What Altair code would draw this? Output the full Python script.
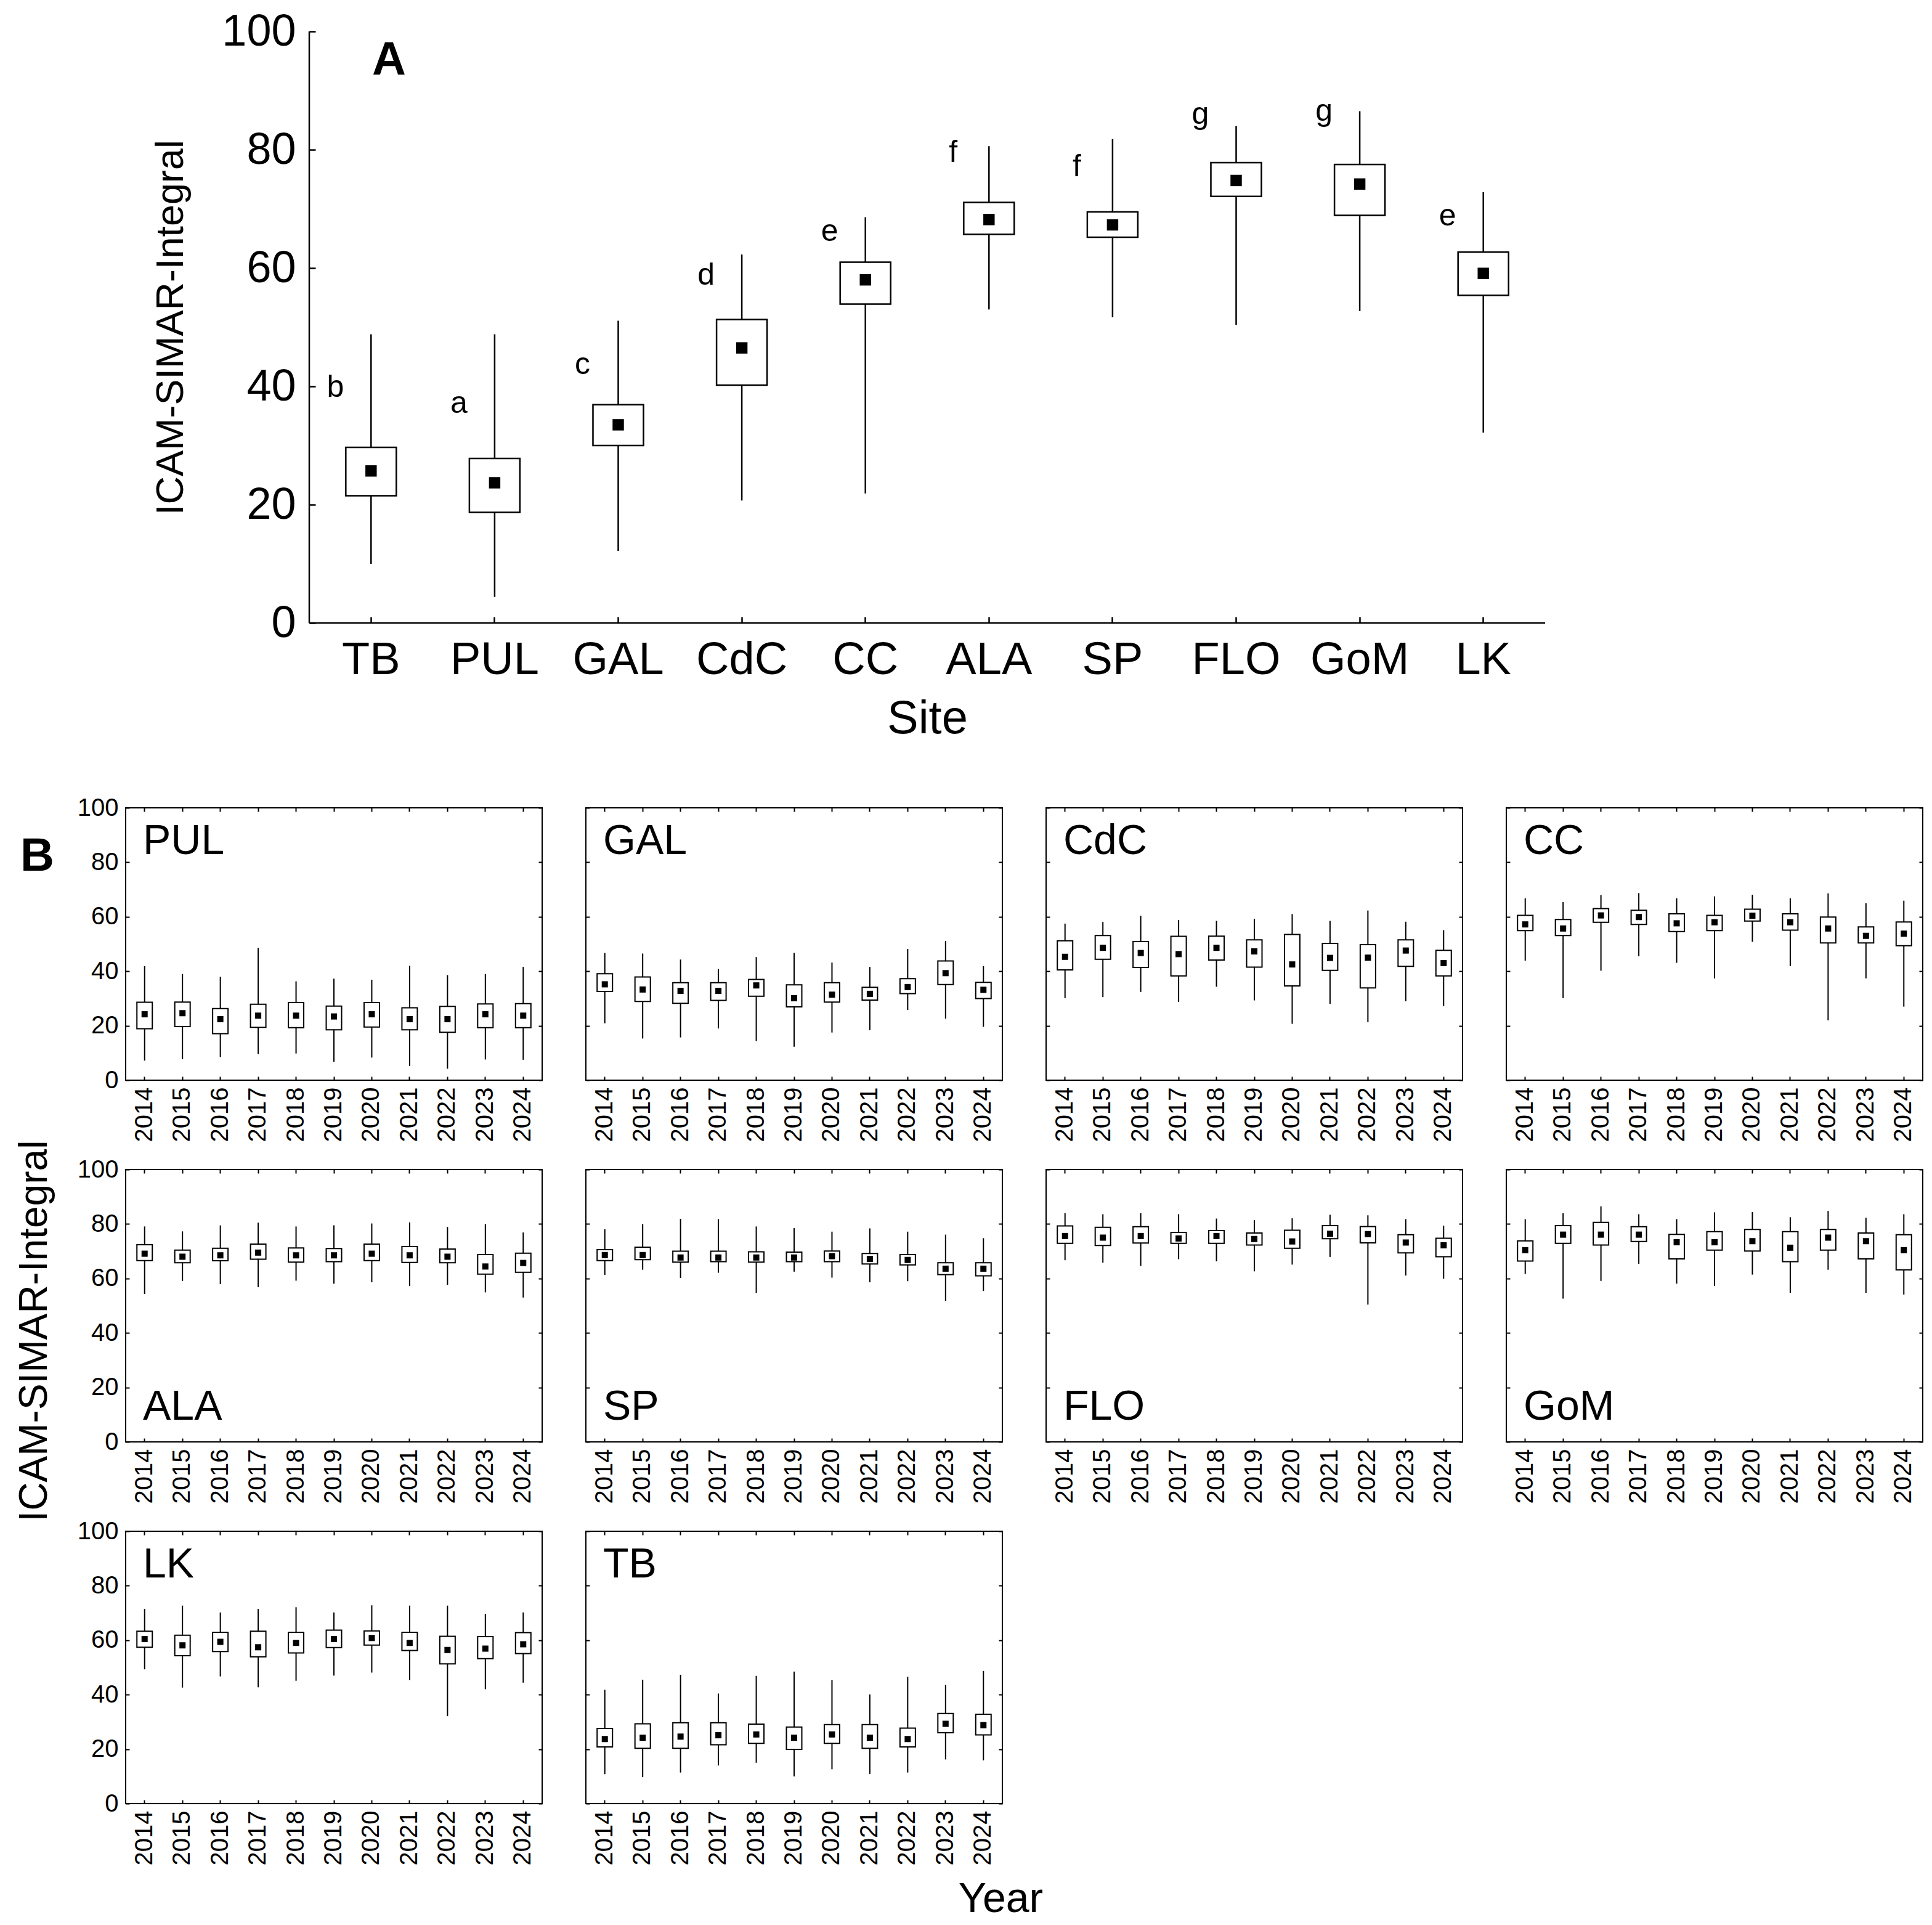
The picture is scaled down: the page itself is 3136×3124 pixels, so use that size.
import altair as alt
import pandas as pd

FONT = "Liberation Sans"

# ---------------- Panel A data ----------------
sites = ["TB", "PUL", "GAL", "CdC", "CC", "ALA", "SP", "FLO", "GoM", "LK"]
site_min = [10.0, 4.4, 12.2, 20.7, 21.9, 53.0, 51.7, 50.4, 52.7, 32.2]
site_q1 = [21.5, 18.7, 30.0, 40.2, 53.9, 65.7, 65.2, 72.1, 68.9, 55.4]
site_med = [25.7, 23.7, 33.5, 46.5, 58.0, 68.2, 67.3, 74.8, 74.2, 59.1]
site_q3 = [29.7, 27.8, 36.9, 51.3, 61.0, 71.1, 69.5, 77.8, 77.5, 62.7]
site_max = [48.8, 48.8, 51.1, 62.3, 68.6, 80.6, 81.8, 84.0, 86.5, 72.8]
letters = ["b", "a", "c", "d", "e", "f", "f", "g", "g", "e"]
letter_y = [39.8, 37.1, 43.6, 58.7, 66.1, 79.5, 77.1, 85.9, 86.5, 68.7]

# ---------------- Panel B data ----------------
years = [str(y) for y in range(2014, 2025)]
panel_rows = [["PUL", "GAL", "CdC", "CC"], ["ALA", "SP", "FLO", "GoM"], ["LK", "TB"]]
label_at_bottom = ["ALA", "SP", "FLO", "GoM"]

yr_min = {
    "PUL": [7.2, 7.7, 8.5, 9.6, 9.8, 6.8, 8.3, 5.2, 4.2, 7.6, 7.5],
    "GAL": [20.9, 15.3, 15.7, 19.0, 14.4, 12.3, 17.5, 18.4, 25.8, 22.6, 19.6],
    "CdC": [30.1, 30.5, 32.4, 28.7, 34.3, 29.3, 20.7, 28.0, 21.3, 29.0, 27.2],
    "CC": [43.9, 30.1, 40.2, 45.5, 43.1, 37.4, 50.8, 41.9, 22.0, 37.4, 27.0],
    "ALA": [54.3, 59.1, 57.9, 56.8, 59.2, 58.1, 58.6, 57.2, 57.7, 54.9, 53.0],
    "SP": [61.3, 63.2, 60.2, 62.1, 54.7, 62.5, 60.3, 58.6, 59.0, 51.8, 55.4],
    "FLO": [66.7, 65.8, 64.6, 67.1, 66.3, 62.6, 65.1, 67.9, 50.4, 61.1, 59.9],
    "GoM": [61.7, 52.6, 59.1, 65.4, 58.1, 57.3, 61.4, 54.7, 63.2, 54.7, 54.1],
    "LK": [49.3, 42.6, 46.7, 42.7, 45.1, 47.0, 48.1, 45.4, 32.1, 42.0, 44.4],
    "TB": [10.8, 9.7, 11.4, 14.0, 15.0, 10.0, 12.6, 10.9, 11.4, 16.2, 15.9],
}
yr_q1 = {
    "PUL": [18.9, 19.7, 17.1, 19.4, 19.3, 18.5, 19.5, 18.5, 17.6, 19.3, 19.3],
    "GAL": [32.6, 28.9, 28.2, 29.3, 30.8, 26.9, 28.7, 29.4, 31.8, 35.1, 30.0],
    "CdC": [40.5, 44.4, 41.4, 38.3, 44.1, 41.5, 34.6, 40.3, 33.9, 41.8, 38.3],
    "CC": [54.9, 53.1, 58.0, 57.2, 54.6, 54.9, 58.4, 55.1, 50.4, 50.4, 49.4],
    "ALA": [66.6, 65.8, 66.5, 67.1, 66.0, 66.2, 66.6, 65.9, 65.8, 61.6, 62.3],
    "SP": [66.6, 66.9, 66.0, 66.2, 66.0, 66.2, 66.2, 65.3, 65.0, 61.4, 61.0],
    "FLO": [72.9, 72.1, 73.0, 72.9, 72.9, 72.3, 71.1, 74.6, 73.1, 69.4, 68.0],
    "GoM": [66.4, 72.9, 72.3, 73.6, 67.2, 70.4, 70.1, 66.2, 70.4, 67.2, 63.2],
    "LK": [57.4, 54.3, 55.8, 53.9, 55.3, 57.3, 58.2, 56.2, 51.3, 53.2, 55.1],
    "TB": [20.8, 20.3, 20.3, 21.6, 22.1, 19.9, 22.1, 20.3, 20.8, 26.0, 25.2],
}
yr_med = {
    "PUL": [24.2, 24.6, 22.4, 23.7, 23.7, 23.4, 24.2, 22.4, 22.4, 24.2, 23.7],
    "GAL": [35.2, 33.3, 32.8, 32.8, 34.8, 30.1, 31.4, 31.7, 34.2, 39.3, 33.2],
    "CdC": [45.3, 48.6, 46.7, 46.3, 48.6, 47.3, 42.5, 44.9, 45.0, 47.6, 43.0],
    "CC": [57.2, 55.7, 60.5, 59.9, 57.6, 58.0, 60.4, 58.0, 55.7, 53.0, 53.8],
    "ALA": [69.1, 68.0, 68.5, 69.5, 68.5, 68.5, 69.1, 68.5, 68.0, 64.4, 65.7],
    "SP": [68.6, 68.6, 67.7, 67.7, 67.7, 67.7, 68.2, 67.2, 66.8, 63.6, 63.6],
    "FLO": [75.6, 75.0, 75.6, 74.7, 75.6, 74.5, 73.6, 76.4, 76.3, 73.2, 72.2],
    "GoM": [70.4, 76.1, 76.1, 76.1, 73.3, 73.3, 73.7, 71.3, 75.0, 73.7, 70.4],
    "LK": [60.4, 58.1, 59.4, 57.4, 59.0, 60.4, 60.8, 59.0, 56.4, 56.9, 58.5],
    "TB": [23.7, 24.2, 24.6, 25.1, 25.4, 24.2, 25.4, 24.2, 23.7, 29.3, 28.8],
}
yr_q3 = {
    "PUL": [28.6, 28.7, 26.3, 27.9, 28.5, 27.2, 28.5, 26.6, 27.1, 28.0, 28.1],
    "GAL": [39.1, 37.9, 35.8, 35.8, 37.0, 35.0, 35.8, 34.1, 37.3, 43.8, 35.9],
    "CdC": [51.2, 53.1, 50.9, 52.8, 52.9, 51.5, 53.5, 50.2, 49.8, 51.5, 47.7],
    "CC": [60.5, 59.0, 63.0, 62.4, 61.1, 60.5, 62.8, 61.1, 59.9, 56.3, 58.1],
    "ALA": [72.4, 70.4, 71.1, 72.6, 71.2, 71.0, 72.6, 71.7, 70.8, 68.8, 69.3],
    "SP": [70.6, 71.5, 70.0, 70.0, 69.8, 69.7, 70.1, 69.2, 68.8, 65.8, 65.8],
    "FLO": [79.3, 78.8, 79.0, 76.9, 77.6, 76.7, 77.7, 79.4, 79.1, 76.1, 74.8],
    "GoM": [73.8, 79.4, 80.6, 79.0, 76.2, 77.2, 78.0, 77.2, 78.0, 76.7, 76.1],
    "LK": [63.3, 61.8, 62.9, 63.3, 62.9, 63.7, 63.4, 62.9, 61.4, 61.3, 62.8],
    "TB": [27.6, 29.3, 29.7, 29.7, 29.2, 28.1, 29.0, 29.0, 27.7, 33.1, 32.8],
}
yr_max = {
    "PUL": [41.9, 39.0, 38.0, 48.6, 36.3, 37.3, 36.9, 42.0, 38.6, 39.0, 41.6],
    "GAL": [46.7, 46.5, 44.3, 40.8, 45.2, 46.7, 43.2, 41.6, 48.2, 51.1, 41.9],
    "CdC": [57.5, 58.1, 60.4, 58.8, 58.5, 59.3, 61.0, 58.5, 62.3, 58.2, 55.1],
    "CC": [66.8, 65.4, 68.0, 68.7, 66.8, 67.5, 68.1, 66.8, 68.6, 65.0, 65.9],
    "ALA": [79.1, 77.3, 79.5, 80.5, 79.1, 79.5, 80.2, 80.6, 78.9, 80.0, 76.9],
    "SP": [78.1, 80.0, 81.9, 81.8, 79.1, 78.5, 77.2, 78.4, 77.2, 76.1, 74.8],
    "FLO": [84.0, 83.6, 84.0, 83.6, 82.0, 81.4, 82.1, 83.4, 83.2, 81.8, 79.4],
    "GoM": [81.8, 84.0, 86.5, 83.6, 81.8, 84.3, 84.4, 82.5, 84.8, 82.3, 83.6],
    "LK": [71.5, 72.7, 70.2, 71.5, 72.1, 70.2, 72.8, 72.7, 72.7, 69.7, 70.2],
    "TB": [41.8, 45.5, 47.3, 40.4, 46.9, 48.5, 45.4, 40.1, 46.6, 43.6, 48.7],
}
y_ticks = [0, 20, 40, 60, 80, 100]

one = pd.DataFrame({"k": [0]})
NOSTROKE = alt.ViewBackground(stroke="transparent")

# ---------------- Panel A ----------------
WA, HA = 2006, 960
dfA = pd.DataFrame({"site": sites, "lo": site_min, "q1": site_q1, "med": site_med,
                    "q3": site_q3, "hi": site_max, "letter": letters, "ly": letter_y})
xA = alt.Scale(domain=sites, paddingInner=0, paddingOuter=0)
yA = alt.Scale(domain=[0, 100], nice=False)
baseA = alt.Chart(dfA)

whiskA = baseA.mark_rule(color="black", strokeWidth=2.5).encode(
    x=alt.X("site:N", scale=xA, axis=alt.Axis(
        orient="bottom", title="Site", labelFontSize=74, titleFontSize=76,
        labelPadding=24, titlePadding=21, tickSize=10, offset=-10, domain=False,
        tickColor="black", tickWidth=2.5, labelAngle=0, grid=False)),
    y=alt.Y("lo:Q", scale=yA, axis=alt.Axis(
        orient="left", values=y_ticks, title="ICAM-SIMAR-Integral",
        labelFontSize=72, titleFontSize=63, labelPadding=22, titlePadding=50,
        tickSize=10, offset=-10, domain=False, tickColor="black", tickWidth=2.5,
        grid=False)),
    y2="hi:Q",
)
boxA = baseA.mark_bar(size=82, fill="white", stroke="black", strokeWidth=2.5).encode(
    x=alt.X("site:N", scale=xA, axis=None),
    y=alt.Y("q1:Q", scale=yA, axis=None),
    y2="q3:Q",
)
medA = baseA.mark_point(shape="square", filled=True, size=340, color="black", opacity=1).encode(
    x=alt.X("site:N", scale=xA, axis=None),
    y=alt.Y("med:Q", scale=yA, axis=None),
)
letA = baseA.mark_text(fontSize=50, dx=-58, baseline="middle", align="center", color="black").encode(
    x=alt.X("site:N", scale=xA, axis=None),
    y=alt.Y("ly:Q", scale=yA, axis=None),
    text="letter:N",
)
lineL = alt.Chart(one).mark_rule(color="black", strokeWidth=2.5).encode(
    x=alt.value(0), y=alt.value(0), y2=alt.value(HA))
lineB = alt.Chart(one).mark_rule(color="black", strokeWidth=2.5).encode(
    x=alt.value(0), x2=alt.value(WA), y=alt.value(HA))
labA = alt.Chart(one).mark_text(fontSize=76, fontWeight="bold", align="left",
                                baseline="alphabetic", color="black").encode(
    x=alt.value(102), y=alt.value(70), text=alt.value("A"))

panelA = alt.layer(whiskA, boxA, medA, letA, lineL, lineB, labA).resolve_axis(
    x="independent", y="independent").properties(width=WA, height=HA, view=NOSTROKE)

spacer = alt.Chart(one).mark_point(opacity=0).encode(
    x=alt.X("k:Q", axis=None), y=alt.Y("k:Q", axis=None)
).properties(width=235, height=10, view=NOSTROKE)

rowA = alt.hconcat(spacer, panelA, spacing=0)

# ---------------- Panel B ----------------
WB, HB = 676, 442


def small(site, col):
    df = pd.DataFrame({"year": years, "lo": yr_min[site], "q1": yr_q1[site],
                       "med": yr_med[site], "q3": yr_q3[site], "hi": yr_max[site]})
    xs = alt.Scale(domain=years, paddingInner=0, paddingOuter=0)
    ys = alt.Scale(domain=[0, 100], nice=False)
    base = alt.Chart(df)
    bottom_kw = dict(orient="bottom", labelAngle=270, labelFontSize=40, labelPadding=11,
                     tickSize=6, offset=-6, domain=False, tickColor="black", tickWidth=2,
                     grid=False)
    if site == "TB":
        bottom_axis = alt.Axis(title="Year", titleFontSize=68, titleX=673, titleY=161,
                               titleBaseline="middle", titleAlign="center", **bottom_kw)
    else:
        bottom_axis = alt.Axis(title=None, **bottom_kw)
    left_axis = alt.Axis(orient="left", values=y_ticks, labels=(col == 0), labelFontSize=40,
                         labelPadding=12, tickSize=6, offset=-6, domain=False,
                         tickColor="black", tickWidth=2, title=None, grid=False)
    top_axis = alt.Axis(orient="top", labels=False, tickSize=6, offset=-6, domain=False,
                        tickColor="black", tickWidth=2, title=None, grid=False)
    right_axis = alt.Axis(orient="right", values=y_ticks, labels=False, tickSize=6, offset=-6,
                          domain=False, tickColor="black", tickWidth=2, title=None, grid=False)

    whisk = base.mark_rule(color="black", strokeWidth=2).encode(
        x=alt.X("year:N", scale=xs, axis=bottom_axis),
        y=alt.Y("lo:Q", scale=ys, axis=left_axis),
        y2="hi:Q",
    )
    box = base.mark_bar(size=25, fill="white", stroke="black", strokeWidth=2).encode(
        x=alt.X("year:N", scale=xs, axis=top_axis),
        y=alt.Y("q1:Q", scale=ys, axis=right_axis),
        y2="q3:Q",
    )
    med = base.mark_point(shape="square", filled=True, size=100, color="black", opacity=1).encode(
        x=alt.X("year:N", scale=xs, axis=None),
        y=alt.Y("med:Q", scale=ys, axis=None),
    )
    ypos = HB - 36 if site in label_at_bottom else 75
    lab = alt.Chart(pd.DataFrame({"name": [site]})).mark_text(
        fontSize=68, align="left", baseline="alphabetic", color="black").encode(
        x=alt.value(28), y=alt.value(ypos), text="name:N")
    return alt.layer(whisk, box, med, lab).resolve_axis(
        x="independent", y="independent").properties(width=WB, height=HB)


rows = []
for r, row in enumerate(panel_rows):
    rows.append(alt.hconcat(*[small(s, c) for c, s in enumerate(row)], spacing=67))
gridB = alt.vconcat(*rows, spacing=23)

titleB = alt.layer(
    alt.Chart(one).mark_text(fontSize=76, fontWeight="bold", align="left",
                             baseline="alphabetic", color="black").encode(
        x=alt.value(24), y=alt.value(102), text=alt.value("B")),
    alt.Chart(one).mark_text(fontSize=64, angle=270, align="center",
                             baseline="alphabetic", color="black").encode(
        x=alt.value(67), y=alt.value(849), text=alt.value("ICAM-SIMAR-Integral")),
).properties(width=114, height=1600, view=NOSTROKE)

blockB = alt.hconcat(titleB, gridB, spacing=0)

chart = alt.vconcat(rowA, blockB, spacing=85).properties(
    padding={"left": 0, "top": 6, "right": 5, "bottom": 5}
).configure(font=FONT).configure_view(
    stroke="black", strokeWidth=2
).configure_axis(
    labelColor="black", titleColor="black", titleFontWeight="normal"
)

chart.save("out.html", embed_options={"renderer": "svg", "actions": False})
